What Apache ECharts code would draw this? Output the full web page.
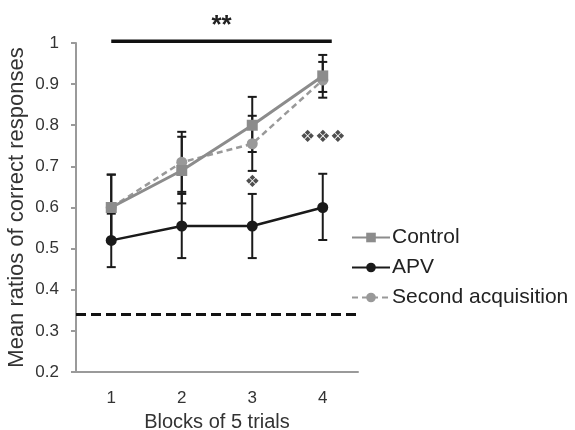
<!DOCTYPE html>
<html><head><meta charset="utf-8">
<script src="https://cdn.jsdelivr.net/npm/echarts@6/dist/echarts.min.js"></script>
<style>html,body{margin:0;padding:0;background:#fff}#c{width:575px;height:430px}</style>
</head><body><div id="c"></div>
<script>
const categories = ['1','2','3','4'];
const controlVals = [0.60, 0.69, 0.80, 0.92];
const controlLow  = [0.52, 0.61, 0.735, 0.867];
const controlHigh = [0.68, 0.772, 0.869, 0.971];
const apvVals = [0.52, 0.555, 0.555, 0.60];
const apvLow  = [0.455, 0.477, 0.477, 0.521];
const apvHigh = [0.585, 0.633, 0.633, 0.682];
const secondVals = [0.60, 0.71, 0.755, 0.91];
const secondLow  = [0.52, 0.638, 0.689, 0.881];
const secondHigh = [0.68, 0.784, 0.823, 0.954];
const chanceLevel = 0.335;
const sigBarLevel = 1.004;
const sigMarks = [{cat:'3', y:0.66, text:'❖'}, {cat:'4', y:0.77, text:'❖❖❖'}];

const FONT = 'Liberation Sans, Arial, sans-serif';

function errData(low, high){ return categories.map((c,i)=>[i, low[i], high[i]]); }
function errSeries(low, high){
  return {
    type:'custom', silent:true, z:1,
    renderItem(params, api){
      const x = api.coord([api.value(0), api.value(1)])[0];
      const y1 = api.coord([api.value(0), api.value(1)])[1];
      const y2 = api.coord([api.value(0), api.value(2)])[1];
      const w = 4.5;
      const st = {stroke:'#1a1a1a', lineWidth:2};
      return {type:'group', children:[
        {type:'line', shape:{x1:x,y1:y1,x2:x,y2:y2}, style:st},
        {type:'line', shape:{x1:x-w,y1:y1,x2:x+w,y2:y1}, style:st},
        {type:'line', shape:{x1:x-w,y1:y2,x2:x+w,y2:y2}, style:st}
      ]};
    },
    data: errData(low, high)
  };
}

const chart = echarts.init(document.getElementById('c'));
chart.setOption({
  animation:false,
  grid:{left:76, right:217, top:43, bottom:58, containLabel:false, outerBoundsMode:'none'},
  legend:{
    orient:'vertical', left:346, top:222, itemGap:9, itemWidth:38, itemHeight:12,
    data:['Control','APV','Second acquisition'],
    textStyle:{fontFamily:FONT, fontSize:21, color:'#222', padding:[0,0,0,-3]}
  },
  xAxis:{
    type:'category', data:categories, boundaryGap:true,
    name:'Blocks of 5 trials', nameLocation:'middle', nameGap:40,
    nameTextStyle:{fontFamily:FONT, fontSize:20, color:'#333'},
    axisLine:{lineStyle:{color:'#9a9a9a', width:2}},
    axisTick:{show:false},
    axisLabel:{fontFamily:FONT, fontSize:17, color:'#333', margin:18}
  },
  yAxis:{
    type:'value', min:0.2, max:1, interval:0.1,
    name:'Mean ratios of correct responses', nameLocation:'middle', nameGap:48,
    nameTextStyle:{fontFamily:FONT, fontSize:22, color:'#333'},
    axisLine:{show:true, lineStyle:{color:'#9a9a9a', width:2}},
    axisTick:{show:true, length:5, lineStyle:{color:'#9a9a9a', width:2}},
    splitLine:{show:false},
    axisLabel:{fontFamily:FONT, fontSize:17, color:'#333', margin:17,
      formatter:v=>String(Math.round(v*10)/10)}
  },
  series:[
    errSeries(controlLow, controlHigh),
    errSeries(secondLow, secondHigh),
    errSeries(apvLow, apvHigh),
    {
      name:'APV', type:'line', data:apvVals, z:3,
      symbol:'circle', symbolSize:11,
      lineStyle:{color:'#1a1a1a', width:2.5},
      itemStyle:{color:'#1a1a1a'},
      markLine:{
        silent:true, symbol:'none', label:{show:false},
        lineStyle:{color:'#111', width:3, type:[10,5]},
        data:[{yAxis:chanceLevel}]
      }
    },
    {
      name:'Second acquisition', type:'line', data:secondVals, z:4,
      symbol:'circle', symbolSize:11,
      lineStyle:{color:'#999', width:2.5, type:[6,4]},
      itemStyle:{color:'#999'}
    },
    {
      name:'Control', type:'line', data:controlVals, z:5,
      symbol:'rect', symbolSize:11,
      lineStyle:{color:'#8c8c8c', width:3},
      itemStyle:{color:'#8c8c8c'}
    },
    {
      type:'scatter', silent:true, symbolSize:0, z:6,
      data: sigMarks.map(m=>({value:[m.cat, m.y], label:{formatter:m.text}})),
      label:{show:true, position:'inside', fontFamily:'DejaVu Sans', fontSize:17, color:'#222'}
    }
  ]
});

const p1 = chart.convertToPixel({xAxisIndex:0, yAxisIndex:0}, ['1', sigBarLevel]);
const p4 = chart.convertToPixel({xAxisIndex:0, yAxisIndex:0}, ['4', sigBarLevel]);
chart.setOption({
  graphic:[
    {type:'line', shape:{x1:p1[0], y1:p1[1], x2:p4[0]+9, y2:p1[1]}, style:{stroke:'#111', lineWidth:3.5}},
    {type:'text', x:(p1[0]+p4[0]+9)/2, y:p1[1]-16, style:{text:'**', fontFamily:FONT, fontSize:26, fontWeight:'bold', fill:'#222', textAlign:'center', textVerticalAlign:'middle'}}
  ]
});
</script></body></html>
